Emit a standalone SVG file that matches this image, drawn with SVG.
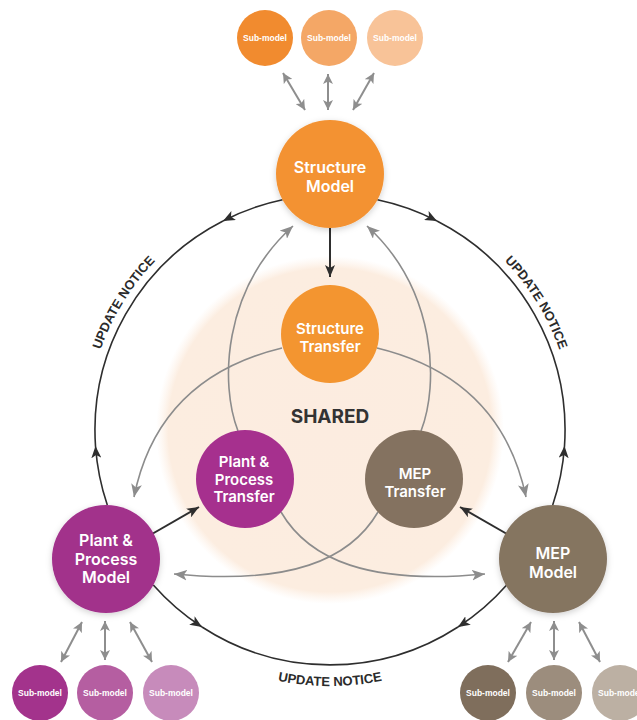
<svg xmlns="http://www.w3.org/2000/svg" width="637" height="720" viewBox="0 0 637 720">
<style>
.lbl{font-family:Inter,"Liberation Sans",sans-serif;font-weight:600;fill:#fff;text-anchor:middle}
.sub{font-family:"Liberation Sans",Arial,sans-serif;font-weight:700;font-size:8.5px;fill:#fff;text-anchor:middle}
.ring{fill:none;stroke:#2e2e2e;stroke-width:1.6}
.gray{fill:none;stroke:#8c8c8c;stroke-width:1.6}
.dbl{fill:none;stroke:#8e8e8e;stroke-width:2}
.blk{fill:none;stroke:#2e2e2e;stroke-width:2}
.note{font-family:"Liberation Sans",Arial,sans-serif;font-weight:700;font-size:13px;fill:#2b2b2b}
</style>
<defs>
<radialGradient id="sg" cx="0.5" cy="0.5" r="0.5">
<stop offset="0" stop-color="#fcece0"/>
<stop offset="0.93" stop-color="#fcede0"/>
<stop offset="1" stop-color="#fdf1e7" stop-opacity="0"/>
</radialGradient>
<filter id="sh" x="-30%" y="-30%" width="160%" height="160%">
<feDropShadow dx="0" dy="2" stdDeviation="3" flood-color="#000" flood-opacity="0.18"/>
</filter>
<marker id="ab" viewBox="0 0 12 10" refX="12" refY="5" markerWidth="12" markerHeight="10" orient="auto" markerUnits="userSpaceOnUse">
<path d="M0,0 L12,5 L0,10 L3,5 z" fill="#2e2e2e"/>
</marker>
<marker id="ag" viewBox="0 0 12 10" refX="12" refY="5" markerWidth="13" markerHeight="11" orient="auto" markerUnits="userSpaceOnUse">
<path d="M0,0 L12,5 L0,10 L3,5 z" fill="#8c8c8c"/>
</marker>
<marker id="ad" viewBox="0 0 10 10" refX="10" refY="5" markerWidth="10" markerHeight="10" orient="auto-start-reverse" markerUnits="userSpaceOnUse">
<path d="M0,0 L10,5 L0,10 L2.5,5 z" fill="#8e8e8e"/>
</marker>
<path id="tpL" d="M87,430 A243,243 0 0 1 330,187"/>
<path id="tpR" d="M330,187 A243,243 0 0 1 573,430"/>
<path id="tpB" d="M74,430 A256,256 0 0 0 586,430"/>
</defs>

<rect width="637" height="720" fill="#fff"/>

<g id="shared">
<circle cx="330" cy="430" r="174" fill="url(#sg)"/>
<text x="330" y="423" font-family="Inter,'Liberation Sans',sans-serif" font-weight="700" font-size="19" fill="#333" text-anchor="middle">SHARED</text>
</g>

<g id="connectors">
<path class="ring" d="M282.6,199.8 A235,235 0 0 0 223,221" marker-end="url(#ab)"/>
<path class="ring" d="M223,221 A235,235 0 0 0 95.5,446"/>
<path class="ring" d="M107.3,505 A235,235 0 0 1 95.5,446" marker-end="url(#ab)"/>
<path class="ring" d="M377.4,199.8 A235,235 0 0 1 437,221" marker-end="url(#ab)"/>
<path class="ring" d="M437,221 A235,235 0 0 1 564.5,446"/>
<path class="ring" d="M552.7,505 A235,235 0 0 0 564.5,446" marker-end="url(#ab)"/>
<path class="ring" d="M153.3,585 A235,235 0 0 0 202,627" marker-end="url(#ab)"/>
<path class="ring" d="M202,627 A235,235 0 0 0 458,627"/>
<path class="ring" d="M506.7,585 A235,235 0 0 1 458,627" marker-end="url(#ab)"/>
<path class="gray" d="M238,431 C220,385 222,290 293,226" marker-end="url(#ag)"/>
<path class="gray" d="M421,431 C439,385 437,290 367,226" marker-end="url(#ag)"/>
<path class="gray" d="M282,348 Q158,378 134,497" marker-end="url(#ag)"/>
<path class="gray" d="M377,348 Q501,378 526,497" marker-end="url(#ag)"/>
<path class="gray" d="M378,512 C350,560 290,585 174,574" marker-end="url(#ag)"/>
<path class="gray" d="M281,512 C309,560 369,585 485,574" marker-end="url(#ag)"/>
<path class="blk" d="M330,228 L330,277" marker-end="url(#ab)"/>
<path class="blk" d="M152,534 L199,507" marker-end="url(#ab)"/>
<path class="blk" d="M507,534 L460,507" marker-end="url(#ab)"/>
<path class="dbl" d="M283,73 L305,110" marker-start="url(#ad)" marker-end="url(#ad)"/>
<path class="dbl" d="M328,74 L328,110" marker-start="url(#ad)" marker-end="url(#ad)"/>
<path class="dbl" d="M374,73 L353,110" marker-start="url(#ad)" marker-end="url(#ad)"/>
<path class="dbl" d="M61,662 L82,622" marker-start="url(#ad)" marker-end="url(#ad)"/>
<path class="dbl" d="M105,660 L105,621" marker-start="url(#ad)" marker-end="url(#ad)"/>
<path class="dbl" d="M152,662 L130,622" marker-start="url(#ad)" marker-end="url(#ad)"/>
<path class="dbl" d="M508,662 L531,622" marker-start="url(#ad)" marker-end="url(#ad)"/>
<path class="dbl" d="M554,660 L554,621" marker-start="url(#ad)" marker-end="url(#ad)"/>
<path class="dbl" d="M600,662 L579,622" marker-start="url(#ad)" marker-end="url(#ad)"/>
</g>

<g id="labels-update">
<text class="note"><textPath href="#tpL" startOffset="35.2%" text-anchor="middle">UPDATE NOTICE</textPath></text>
<text class="note"><textPath href="#tpR" startOffset="64.8%" text-anchor="middle">UPDATE NOTICE</textPath></text>
<text class="note"><textPath href="#tpB" startOffset="50%" text-anchor="middle">UPDATE NOTICE</textPath></text>
</g>

<g id="structure-model">
<circle cx="330" cy="174" r="54" fill="#f39232" filter="url(#sh)"/>
<text class="lbl" font-size="16" x="330" y="173">Structure</text>
<text class="lbl" font-size="16" x="330" y="192">Model</text>
</g>
<g id="plant-model">
<circle cx="106" cy="559" r="54" fill="#a2308b" filter="url(#sh)"/>
<text class="lbl" font-size="16" x="106" y="546">Plant &amp;</text>
<text class="lbl" font-size="16" x="106" y="564.5">Process</text>
<text class="lbl" font-size="16" x="106" y="583">Model</text>
</g>
<g id="mep-model">
<circle cx="553" cy="559" r="54" fill="#857461" filter="url(#sh)"/>
<text class="lbl" font-size="16" x="553" y="559">MEP</text>
<text class="lbl" font-size="16" x="553" y="578">Model</text>
</g>

<g id="structure-transfer">
<circle cx="330" cy="334" r="49" fill="#f39530"/>
<text class="lbl" font-size="15" x="330" y="334">Structure</text>
<text class="lbl" font-size="15" x="330" y="352">Transfer</text>
</g>
<g id="plant-transfer">
<circle cx="245" cy="479" r="49" fill="#a6308e"/>
<text class="lbl" font-size="15" x="244" y="467">Plant &amp;</text>
<text class="lbl" font-size="15" x="244" y="484.5">Process</text>
<text class="lbl" font-size="15" x="244" y="502">Transfer</text>
</g>
<g id="mep-transfer">
<circle cx="414" cy="479" r="49" fill="#847260"/>
<text class="lbl" font-size="15" x="415" y="479">MEP</text>
<text class="lbl" font-size="15" x="415" y="497">Transfer</text>
</g>

<g id="structure-subs">
<circle cx="265" cy="38" r="28" fill="#f18b2f"/><text class="sub" x="265" y="41">Sub-model</text>
<circle cx="329" cy="38" r="28" fill="#f4a766"/><text class="sub" x="329" y="41">Sub-model</text>
<circle cx="395" cy="38" r="28" fill="#f8c398"/><text class="sub" x="395" y="41">Sub-model</text>
</g>
<g id="plant-subs">
<circle cx="40" cy="693" r="28" fill="#a3338c"/><text class="sub" x="40" y="696">Sub-model</text>
<circle cx="105" cy="693" r="28" fill="#b55ea1"/><text class="sub" x="105" y="696">Sub-model</text>
<circle cx="171" cy="693" r="28" fill="#c78bbb"/><text class="sub" x="171" y="696">Sub-model</text>
</g>
<g id="mep-subs">
<circle cx="488" cy="693" r="28" fill="#7f6e5c"/><text class="sub" x="488" y="696">Sub-model</text>
<circle cx="554" cy="693" r="28" fill="#9c8d7d"/><text class="sub" x="554" y="696">Sub-model</text>
<circle cx="620" cy="693" r="28" fill="#bcb0a3"/><text class="sub" x="620" y="696">Sub-model</text>
</g>
</svg>
